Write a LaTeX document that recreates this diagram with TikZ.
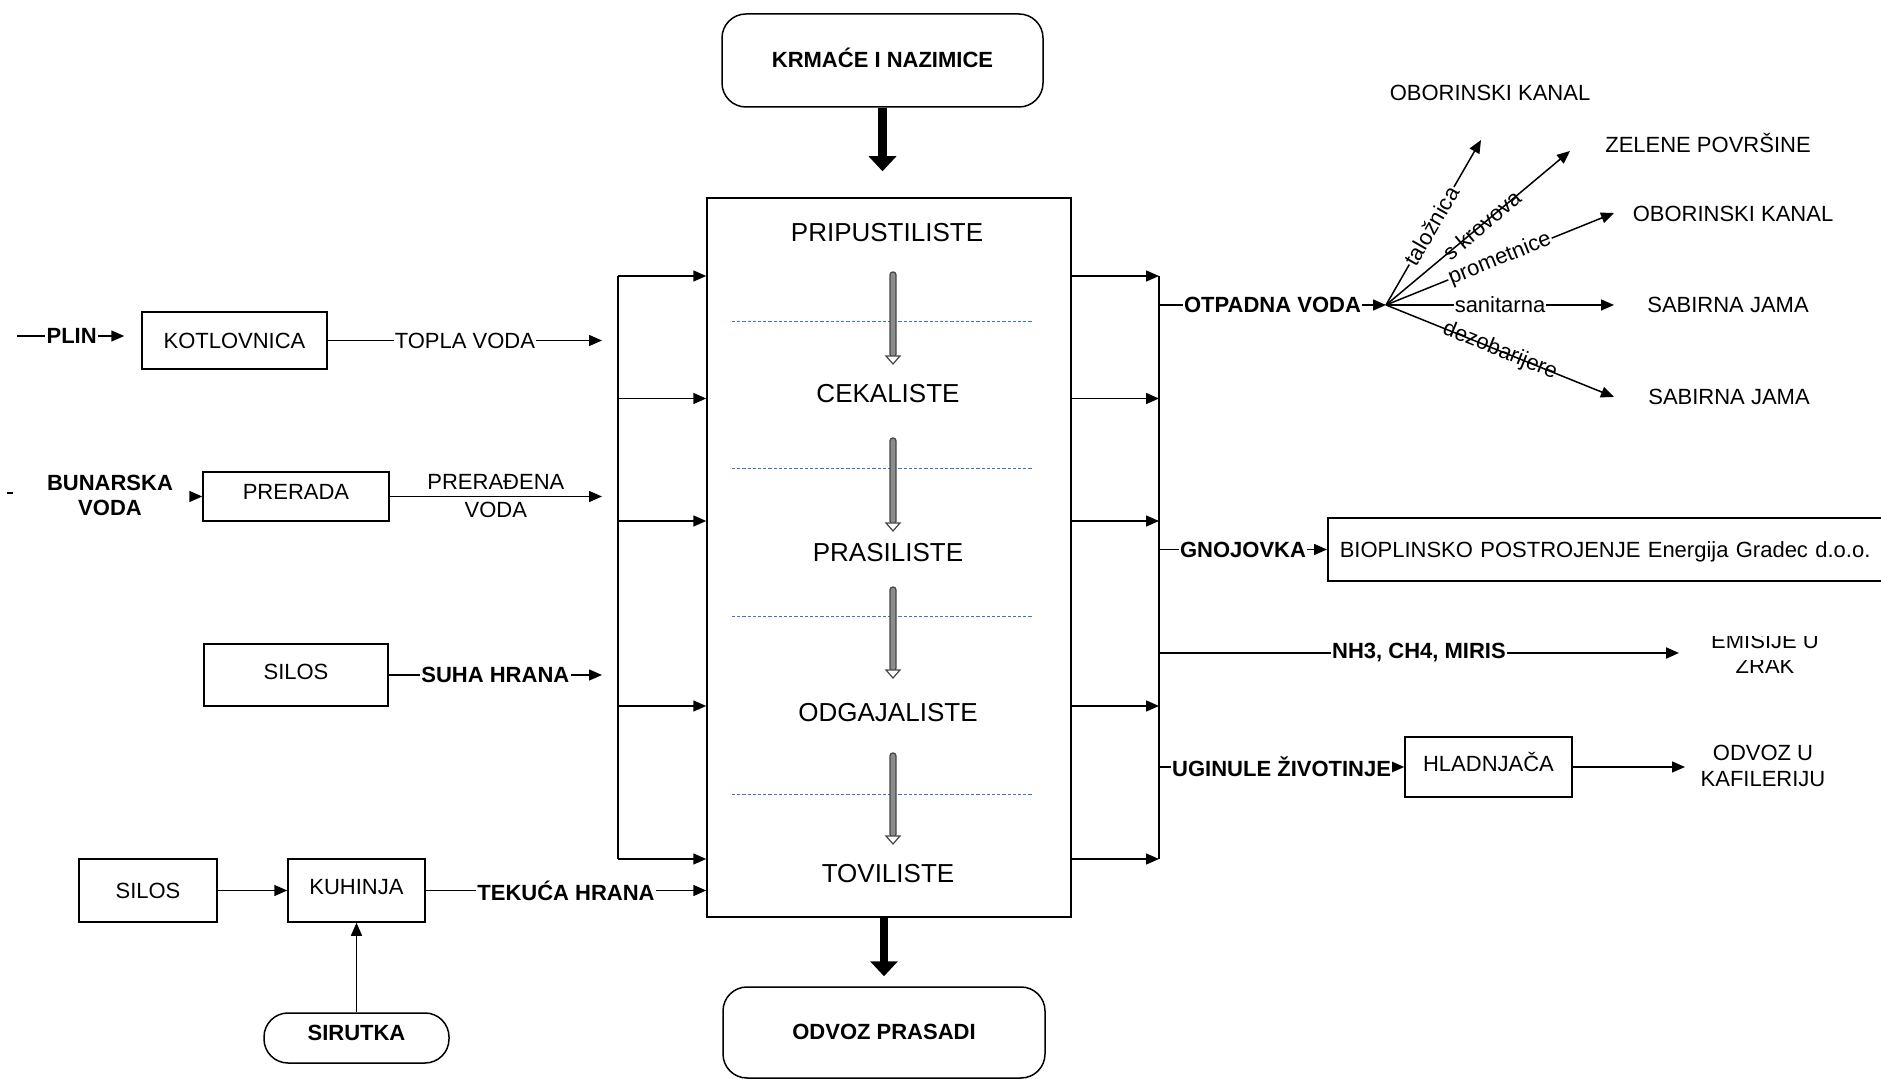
\documentclass[tikz,border=0pt]{standalone}
\usepackage{fontspec}
\setmainfont{Liberation Sans}
\usetikzlibrary{arrows.meta,calc}
\definecolor{dblue}{RGB}{68,114,196}
\definecolor{garrow}{RGB}{140,140,140}
\definecolor{gline}{RGB}{70,70,70}
\begin{document}
\begin{tikzpicture}[x=0.5pt,y=-0.5pt,
  every node/.style={font=\fontsize{11pt}{13pt}\selectfont, inner sep=0pt},
  box/.style={draw, line width=0.75pt, align=center, text height=7.9pt, text depth=0pt},
  rbox/.style={box, rounded corners=12pt},
  bold/.style={font=\fontsize{11pt}{13pt}\selectfont\bfseries},
  conn/.style={line width=0.75pt},
  arr/.style={conn, -{Triangle[length=6.5pt,width=5.5pt]}},
  lbl/.style={fill=white, inner xsep=0.6pt, inner ysep=1pt, font=\fontsize{11pt}{13pt}\selectfont\bfseries},
  plbl/.style={fill=white, inner xsep=0.6pt, inner ysep=1pt},
  stage/.style={font=\fontsize{13pt}{15pt}\selectfont},
  bigarrow/.style={line width=4.2pt, -{Triangle[length=7.5pt,width=13.5pt]}},
  dline/.style={dblue, line width=0.5pt, dash pattern=on 1.6pt off 1pt},
]
\useasboundingbox (0,0) rectangle (1881,1079);

% ---------- central column ----------
\node[rbox, bold, minimum width=160.5pt, minimum height=46.5pt, text depth=1pt] (krm) at (882.5,60.5) {KRMAĆE I NAZIMICE};
\node[box, minimum width=182pt, minimum height=359.5pt] (main) at (889,557.5) {};
\node[rbox, bold, minimum width=161pt, minimum height=45.5pt, text depth=1pt] (odv) at (884,1032.5) {ODVOZ PRASADI};

\draw[bigarrow, shorten >=13pt] (krm.south) -- (krm.south |- main.north);
\draw[bigarrow, shorten >=5pt] (main.south -| odv.north) -- (odv.north);

\foreach \y in {322,469,617,795} \draw[dline] (732,\y) -- (1033,\y);

\node[stage] (s1) at (887,233) {PRIPUSTILISTE};
\node[stage] (s2) at (888,394) {CEKALISTE};
\node[stage] (s3) at (888,553) {PRASILISTE};
\node[stage] (s4) at (888,713) {ODGAJALISTE};
\node[stage] (s5) at (888,874) {TOVILISTE};

\foreach \ya/\yb in {272/364, 438/531, 587/678, 753/844}{
  \draw[line width=0.6pt, draw=gline, fill=garrow, rounded corners=1.4pt] (890,\ya) rectangle (896,\yb-7);
  \draw[line width=0.6pt, draw=gline, fill=white] (886,\yb-8) -- (900,\yb-8) -- (893,\yb) -- cycle;
}

% ---------- left inputs ----------
\node[box, minimum width=92.5pt, minimum height=28.5pt] (kot) at (234.5,340.5) {KOTLOVNICA};
\node[box, minimum width=93pt, minimum height=24.5pt, text depth=4.5pt] (prer) at (296,496.5) {PRERADA};
\node[box, minimum width=92pt, minimum height=31pt, text depth=3pt] (sil1) at (296,675) {SILOS};
\node[box, minimum width=69pt, minimum height=31.5pt] (sil2) at (148,890.5) {SILOS};
\node[box, minimum width=68.5pt, minimum height=31.5pt, text depth=3.5pt] (kuh) at (356.5,890.5) {KUHINJA};
\node[rbox, bold, minimum width=92.5pt, minimum height=25pt, text depth=5pt] (sir) at (356.5,1038) {SIRUTKA};

\coordinate (plin0) at (17,336);
\draw[arr, shorten >=8.5pt] (plin0) -- node[lbl, pos=.44] (plinl) {PLIN} (kot.west |- plin0);

\coordinate (tv) at (602,340.5);
\draw[arr] (kot.east) -- node[plbl] (tvl) {TOPLA VODA} (tv);

\coordinate (bun0) at (7,493);
\coordinate (bun1) at (13,493);
\draw[conn] (bun0) -- (bun1);
\coordinate (bun2) at (190,496.5);
\draw[arr] (bun2) -- (prer.west);
\node[align=center, font=\fontsize{11pt}{12.5pt}\selectfont\bfseries] (bunl) at (110,495.5) {BUNARSKA\\VODA};

\coordinate (pv) at (602,496.5);
\draw[arr] (prer.east) -- node[align=center, font=\fontsize{11pt}{14pt}\selectfont] (pvl) {PRERAĐENA\\VODA} (pv);

\coordinate (sh) at (602,675);
\draw[arr] (sil1.east) -- node[lbl] (shl) {SUHA HRANA} (sh);

\draw[arr] (sil2) -- (kuh);
\draw[arr] (sir) -- (kuh);
\draw[arr] (kuh.east) -- node[lbl] (thl) {TEKUĆA HRANA} (main.west |- kuh.east);

% left bus
\foreach \n/\y in {1/276,2/398.5,3/521,4/706,5/859}{
  \coordinate (lb\n) at (618,\y);
  \draw[arr] (lb\n) -- (main.west |- lb\n);
}
\draw[conn] (lb1) -- (lb5);

% ---------- right side ----------
\foreach \n/\y in {1/276,2/398.5,3/521,4/706,5/859}{
  \coordinate (rb\n) at (1159,\y);
  \draw[arr] (main.east |- rb\n) -- (rb\n);
}
\draw[conn] (rb1) -- (rb5);

\coordinate (ro) at (1159,305);
\coordinate (fan) at (1386,305);
\draw[arr] (ro) -- node[lbl] (otl) {OTPADNA VODA} (fan);

\coordinate (t1) at (1481,140);
\coordinate (t2) at (1570,151);
\coordinate (t3) at (1614,213);
\coordinate (t4) at (1614,305);
\coordinate (t5) at (1614,397);
\draw[arr] (fan) -- node[plbl, sloped, pos=.48] (l1) {taložnica} (t1);
\draw[arr] (fan) -- node[sloped, pos=.52] (l2) {s krovova} (t2);
\draw[arr] (fan) -- node[plbl, sloped] (l3) {prometnice} (t3);
\draw[arr] (fan) -- node[plbl] (l4) {sanitarna} (t4);
\draw[arr] (fan) -- node[sloped] (l5) {dezobarijere} (t5);

\node (ok1) at (1490,93) {OBORINSKI KANAL};
\node (zp) at (1708,143) {ZELENE POVRŠINE};
\node (ok2) at (1733,214) {OBORINSKI KANAL};
\node (sj1) at (1728,305) {SABIRNA JAMA};
\node (sj2) at (1729,397) {SABIRNA JAMA};

\node[box, anchor=west, minimum height=31.5pt, text width=274.5pt, inner xsep=6pt, align=left] (bio) at (1327,549.5) {BIOPLINSKO POSTROJENJE Energija Gradec d.o.o.};
\coordinate (rg) at (1159,549.5);
\draw[arr] (rg) -- node[lbl] (gnl) {GNOJOVKA} (bio.west);

\coordinate (rn) at (1159,653);
\coordinate (emt) at (1679,653);
\draw[arr, line width=1.1pt] (rn) -- node[lbl] (nhl) {NH3, CH4, MIRIS} (emt);
\begin{scope}
  \clip (1690,637) rectangle (1840,662);
  \node[anchor=base] (em1) at (1765,649) {EMISIJE U};
\end{scope}
\begin{scope}
  \clip (1690,661) rectangle (1840,690);
  \node[anchor=base] (em2) at (1765,674) {ZRAK};
\end{scope}

\node[box, minimum width=83.5pt, minimum height=30pt, text depth=3pt] (hlad) at (1488.5,767) {HLADNJAČA};
\coordinate (ru) at (1159,767);
\draw[arr] (ru) -- node[lbl] (ugl) {UGINULE ŽIVOTINJE} (hlad.west);
\coordinate (kaf) at (1685,767);
\draw[arr] (hlad.east) -- (kaf);
\node[align=center, font=\fontsize{11pt}{13pt}\selectfont] (kafl) at (1763,766) {ODVOZ U\\KAFILERIJU};

\end{tikzpicture}
\end{document}
